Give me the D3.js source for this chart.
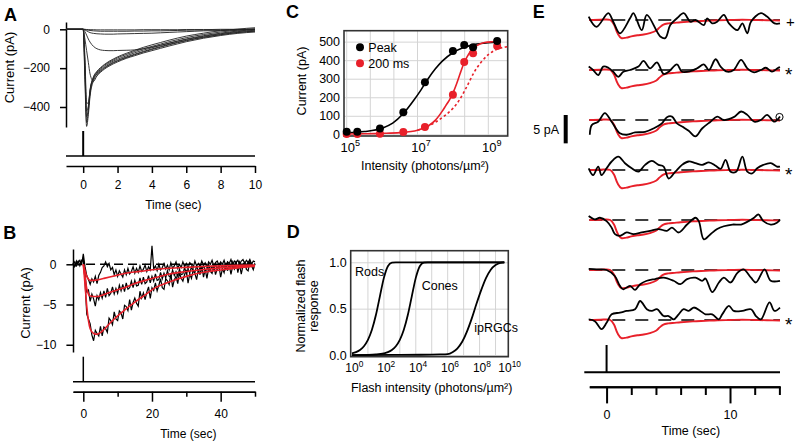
<!DOCTYPE html>
<html><head><meta charset="utf-8">
<script src="https://cdn.jsdelivr.net/npm/d3@7"></script>
<style>
body{margin:0;background:#fff;}
svg{display:block;font-family:"Liberation Sans",Arial,Helvetica,sans-serif;}
</style></head><body>
<svg id="fig" width="800" height="443"></svg>
<script>
// ---------------- DATA ----------------
// Panel A: flash responses (pA) sampled at aTime (s)
const aTime = [-1, 0, 0.1, 0.2, 0.3, 0.4, 0.6, 0.8, 1.0, 1.25, 1.5, 1.75, 2.0, 2.5, 3.0, 3.5, 4.0, 4.5, 5.0, 5.5, 6.0, 6.5, 7.0, 7.5, 8.0, 8.5, 9.0, 9.5, 10.0];
const aTraces = [
  [0, 0, -260, -500, -440, -345, -265, -238, -222, -204, -190, -178, -168, -150, -136, -122, -110, -98, -86, -75, -64, -55, -46, -39, -32, -26, -21, -17, -14],
  [0, 0, -230, -480, -420, -330, -258, -230, -213, -196, -182, -170, -160, -143, -128, -114, -101, -89, -77, -67, -57, -48, -40, -33, -27, -21, -16, -12, -9],
  [0, 0, -200, -450, -405, -320, -252, -226, -208, -190, -176, -164, -154, -137, -121, -107, -95, -83, -71, -60, -50, -41, -33, -26, -20, -14, -9, -5, -1],
  [0, 0, -170, -420, -395, -315, -248, -220, -202, -184, -170, -158, -147, -130, -114, -100, -88, -76, -64, -53, -43, -34, -27, -20, -14, -9, -4, 0, 3],
  [0, 0, -140, -380, -380, -310, -244, -216, -198, -180, -165, -153, -142, -124, -108, -93, -80, -68, -56, -45, -35, -27, -20, -13, -8, -3, 1, 5, 8],
  [0, 0, -50, -110, -170, -230, -268, -240, -218, -200, -185, -173, -163, -146, -131, -117, -104, -92, -80, -69, -59, -50, -42, -35, -28, -22, -17, -13, -10],
  [0, 0, -12, -30, -50, -66, -88, -100, -106, -109, -110, -110, -109, -108, -106, -100, -92, -82, -72, -62, -52, -44, -36, -29, -23, -17, -12, -8, -5],
  [0, 0, -3, -8, -13, -17, -21, -23, -24, -25, -25, -25, -24, -23, -22, -21, -20, -18, -16, -14, -12, -10, -8, -7, -6, -5, -4, -3, -2],
  [0, 0, -1, -3, -5, -6, -8, -9, -10, -10, -10, -10, -10, -10, -9, -9, -8, -8, -7, -6, -5, -4, -4, -3, -3, -2, -2, -1, -1],
  [0, 0, 0, -1, -1, -2, -2, -3, -3, -3, -3, -3, -3, -3, -3, -2, -2, -2, -2, -2, -1, -1, -1, -1, 0, 0, 0, 0, 0]
];
const aYTicks = [0, -200, -400];
const aXTicks = [0, 2, 4, 6, 8, 10];
const flashTime = 0;

// Panel B: dim flash responses (pA), raw traces sampled every 0.5 s from -3 s to 50 s, and fits
const bTimeStart = -3, bTimeStep = 0.5;
const bRaw1 = [-0.1,0.3,-0.2,0.2,0.5,-0.1,1.3,-0.3,-1.4,-1.9,-2.5,-1.8,-2.2,-1.5,-2.4,-1.4,-1.0,-0.4,-0.2,0.3,-0.3,0.1,-0.7,-0.4,-1.3,-0.7,-1.5,-0.8,-1.2,-1.6,-0.7,-1.3,-0.5,-1.2,-0.9,-0.3,-1.1,-0.5,-1.0,-0.2,-0.9,-0.6,-0.1,-0.9,-0.3,-0.7,2.3,-0.6,-0.2,-0.8,0.0,-0.7,-0.4,0.1,-0.6,-0.1,-0.7,0.2,-0.5,-0.2,0.3,-0.5,0.0,-0.4,0.3,-0.3,0.1,-0.5,0.2,0.0,-0.4,0.4,-0.2,0.1,-0.3,0.4,-0.1,0.2,-0.4,0.3,0.0,0.5,-0.2,0.2,0.4,-0.1,0.3,0.0,0.5,-0.2,0.3,0.1,0.6,-0.1,0.4,0.2,0.5,0.0,0.4,0.6,0.1,0.5,0.2,0.6,0.0,0.4,0.3];
const bRaw2 = [0.2,-0.3,0.1,0.4,-0.2,0.3,0.6,-1.2,-3.4,-3.2,-4.6,-3.7,-4.3,-5.2,-3.9,-4.4,-3.5,-4.2,-3.3,-4.1,-3.0,-3.9,-3.6,-2.8,-3.7,-3.0,-3.6,-2.6,-3.3,-2.5,-3.4,-2.3,-3.1,-2.9,-2.1,-2.9,-2.0,-2.7,-2.6,-1.7,-2.5,-1.6,-2.4,-2.2,-1.4,-2.3,-1.5,-2.1,-1.2,-2.0,-1.9,-1.0,-1.8,-1.1,-1.7,-0.8,-1.5,-1.6,-0.7,-1.4,-0.9,-1.5,-0.6,-1.3,-1.2,-0.4,-1.2,-0.6,-1.1,-0.3,-0.9,-1.0,-0.2,-0.9,-0.4,-0.8,-0.1,-0.8,-0.7,0.0,-0.7,-0.2,-0.6,0.1,-0.6,-0.5,0.1,-0.5,0.0,-0.6,0.2,-0.4,-0.3,0.3,-0.5,0.1,-0.3,0.3,-0.4,0.0,0.2,-0.4,0.3,-0.2,0.1,-0.3,0.1];
const bRaw3 = [0.15,-0.25,0.4,-0.1,0.05,0.45,0.8,-2.1,-6.2,-6.8,-7.4,-8.8,-9.5,-8.2,-8.6,-8.9,-7.7,-8.9,-7.8,-8.0,-8.45,-6.7,-7.0,-7.5,-5.9,-6.8,-7.0,-5.8,-6.05,-6.8,-5.1,-5.25,-5.75,-4.4,-5.7,-4.75,-4.2,-4.85,-5.2,-3.35,-4.2,-3.55,-4.4,-3.45,-2.8,-4.25,-2.9,-3.25,-2.3,-3.3,-2.6,-1.8,-2.9,-3.1,-1.8,-2.05,-2.5,-1.2,-2.85,-1.95,-1.5,-2.4,-1.05,-1.75,-2.1,-1.25,-0.7,-2.35,-1.2,-1.75,-0.7,-1.15,-1.9,-0.65,-1.3,-0.15,-1.6,-0.67,-1.74,-0.5,-0.87,-1.14,-0.11,-1.28,-0.55,-0.12,-1.6,-0.57,-1.05,0.18,-0.8,-0.07,-1.25,-0.22,-0.6,0.43,-1.05,-0.03,-1.21,-0.19,0.23,-0.65,-0.83,0.39,-0.19,-0.67,0.05];
const bFitTime = [0, 0.5, 1, 1.5, 2, 3, 4, 5, 6, 8, 10, 12, 15, 18, 21, 25, 30, 35, 40, 45, 50];
const bFit1 = [0, -0.8, -1.5, -1.85, -2.0, -2.0, -1.95, -1.85, -1.75, -1.55, -1.35, -1.15, -0.95, -0.8, -0.65, -0.5, -0.38, -0.28, -0.2, -0.14, -0.1];
const bFit2 = [0, -1.5, -3.0, -3.7, -3.95, -4.0, -4.0, -3.9, -3.75, -3.45, -3.15, -2.9, -2.4, -2.0, -1.65, -1.2, -0.9, -0.65, -0.45, -0.3, -0.2];
const bFit3 = [0, -2.5, -5.2, -7.0, -8.0, -8.6, -8.7, -8.5, -8.1, -7.2, -6.4, -5.7, -4.7, -3.8, -2.9, -2.2, -1.5, -1.0, -0.7, -0.45, -0.25];
const bYTicks = [0, -5, -10];
const bXMajor = [0, 20, 40];
const bXMinor = [10, 30, 50];

// Panel C: intensity-response
const cIntensityExp = [5.0, 5.30, 5.94, 6.60, 7.21, 8.0, 8.32, 8.57, 9.25];
const cPeak = [14, 14, 32, 119, 281, 450, 482, 470, 503];
const c200ms = [2, 2, 3, 12, 39, 214, 390, 437, 476];
const cFitPeakExp = [5.0, 5.5, 6.0, 6.3, 6.6, 6.9, 7.1, 7.3, 7.5, 7.7, 8.0, 8.3, 8.6, 9.0, 9.25];
const cFitPeak = [8, 15, 33, 60, 112, 185, 240, 300, 352, 395, 440, 468, 484, 494, 497];
const cFitRedExp = [5.0, 5.5, 6.0, 6.5, 7.0, 7.3, 7.5, 7.7, 7.8, 7.9, 8.0, 8.1, 8.2, 8.3, 8.4, 8.5, 8.6, 8.75, 8.9, 9.1, 9.25];
const cFitRed = [2, 3, 5, 9, 22, 45, 75, 125, 155, 185, 222, 270, 325, 378, 418, 448, 468, 486, 495, 499, 500];
const cFitDotExp = [7.0, 7.2, 7.5, 7.8, 8.0, 8.2, 8.4, 8.6, 8.8, 9.0, 9.2, 9.4, 9.55];
const cFitDot = [22, 35, 65, 105, 140, 190, 260, 335, 390, 430, 455, 468, 473];
const cYTicks = [0, 100, 200, 300, 400, 500];
const cXLabelExp = [5, 7, 9];
const cXGridExp = [5, 5.667, 6.333, 7, 7.667, 8.333, 9];
const cLegend = ["Peak", "200 ms"];

// Panel D: normalized flash responses
const dRodExp = [0, 0.25, 0.5, 0.75, 1.0, 1.25, 1.5, 1.75, 2.0, 2.25, 2.5, 2.75, 9.55];
const dRod = [0.018, 0.031, 0.055, 0.095, 0.163, 0.272, 0.431, 0.633, 0.832, 0.958, 0.996, 1.0, 1.0];
const dConeExp = [0, 1.0, 1.5, 2.0, 2.25, 2.5, 2.75, 3.0, 3.25, 3.5, 3.75, 4.0, 4.25, 4.5, 4.75, 9.55];
const dCone = [0.0, 0.002, 0.006, 0.018, 0.031, 0.055, 0.095, 0.163, 0.272, 0.431, 0.633, 0.832, 0.958, 0.996, 1.0, 1.0];
const dIpExp = [0, 3, 5, 5.5, 6.0, 6.3, 6.6, 6.9, 7.2, 7.5, 7.8, 8.1, 8.4, 8.7, 9.0, 9.3, 9.55];
const dIp = [0.0, 0.002, 0.004, 0.006, 0.01, 0.03, 0.07, 0.14, 0.25, 0.39, 0.55, 0.7, 0.83, 0.92, 0.97, 0.995, 1.0];
const dYTicks = [0, 0.5, 1.0];
const dXLabelExp = [0, 2, 4, 6, 8, 10];
const dXGridExp = [1, 2, 3, 4, 5, 6, 7, 8, 9];
const dNames = ["Rods", "Cones", "ipRGCs"];

// Panel E: single-trial responses (black) vs average (red), [s, pA]
const eRed = [[-1.4,0],[-0.5,0.05],[0.3,0],[0.6,-0.8],[0.9,-2.4],[1.2,-3.2],[1.6,-3.1],[2.0,-2.9],[2.5,-2.7],[3.0,-2.55],[3.5,-2.3],[4.0,-1.9],[4.3,-1.3],[4.6,-0.8],[5.0,-0.6],[5.5,-0.5],[6,-0.4],[7,-0.25],[8,-0.15],[9,-0.05],[10,0],[11,0.05],[12,0],[13,-0.05],[14.05,-0.1]];
const eRow1 = [[-1.45,0.6],[-0.82,-1.2],[0.14,1.2],[0.54,-0.3],[1.08,-2.35],[1.9,0.3],[2.17,1.2],[2.85,-1.8],[3.26,0.9],[4.35,-2.9],[4.75,-3.2],[5.16,-0.9],[5.7,0.3],[6.25,1.2],[6.79,-0.3],[7.2,0],[7.88,-0.9],[8.15,0.3],[8.55,-0.6],[8.96,-0.3],[9.5,0.9],[9.91,-0.6],[10.6,-1.8],[11.0,-0.6],[11.4,-2.35],[11.7,-0.3],[12.5,1.2],[13.0,0.6],[13.6,-0.6],[14.05,-0.6]];
const eRow2 = [[-1.45,0.6],[-1.09,0],[-0.68,-0.9],[-0.27,0.6],[0.14,0.4],[0.54,-0.3],[0.95,-1.2],[1.36,-0.3],[1.9,0],[2.58,0.6],[2.99,1.6],[3.53,0.3],[4.08,1.35],[4.62,-0.7],[5.03,-0.3],[5.7,1.0],[6.11,-0.3],[6.79,-0.2],[7.34,0.3],[7.88,1.0],[8.29,0],[8.83,1.9],[9.24,0.6],[9.78,-0.3],[10.3,0],[10.9,1.8],[11.4,0.3],[11.95,-0.4],[12.5,0],[12.9,0.4],[13.4,-0.3],[13.85,0.3],[14.05,0.5]];
const eRow3 = [[-1.36,-2.6],[-1.2,-0.9],[-0.68,-0.3],[-0.14,1.2],[0.41,-0.3],[1.08,-2.35],[1.63,-2.6],[2.31,-2.2],[3.12,-2.1],[3.8,-1.5],[4.48,-0.6],[4.89,0.5],[5.3,0.6],[5.7,-0.6],[6.24,-1.3],[6.65,-1.9],[7.19,-2.9],[7.74,-1.5],[8.42,-0.3],[8.96,0.6],[9.5,0],[10.3,0.5],[10.9,1.5],[11.4,0.9],[11.96,-0.3],[12.5,0],[13.0,0.9],[13.6,-0.3],[14.05,0.6]];
const eRow4 = [[-1.45,0.3],[-1.09,-0.9],[-0.68,0.6],[-0.41,-0.9],[0,0.3],[0.41,1.5],[0.95,2.35],[1.49,1.2],[2.04,0.3],[2.58,-0.3],[3.12,0.9],[3.67,1.6],[4.21,0.9],[4.62,0.6],[5.03,-1.5],[5.57,-0.3],[6.11,0.9],[6.65,1.5],[7.2,1.2],[7.74,0.9],[8.29,1.35],[8.83,0.75],[9.24,0.2],[9.64,1.8],[10.05,-0.3],[10.5,-0.3],[11.0,2.35],[11.4,-0.3],[11.8,-0.6],[12.2,0.3],[12.7,0.9],[13.3,1.2],[13.8,0.6],[14.05,0.6]];
const eRow5 = [[-1.45,0.7],[-0.95,0.1],[-0.54,0.4],[0,-0.2],[0.41,-1.35],[0.68,-2.5],[1.08,-2.8],[1.63,-2.2],[2.17,-2.5],[2.85,-2.2],[3.53,-1.9],[4.21,-1.6],[4.89,-1.9],[5.3,-1.35],[5.84,-2.2],[6.52,-0.8],[7.2,0.4],[7.47,-0.2],[7.88,-3.4],[8.42,-2.5],[8.96,-1.6],[9.5,-1.1],[10.2,-0.8],[10.9,-0.8],[11.5,-0.2],[11.95,0.4],[12.3,1.0],[12.7,-0.2],[13.3,-0.8],[13.8,-0.5],[14.05,0.1]];
const eRow6 = [[-1.45,0.2],[-0.82,0.1],[0,0],[0.68,-1.1],[1.08,-2.8],[1.36,-3.4],[1.9,-2.8],[2.31,-3.5],[2.72,-2.5],[3.26,-1.9],[3.94,-1.6],[4.62,-1.35],[5.43,-1.9],[5.98,-2.5],[6.52,-1.6],[7.2,-1.35],[7.74,-1.9],[8.01,-1.5],[8.56,-3.9],[9.1,-2.2],[9.5,-1.35],[10.05,-2.2],[10.6,-0.5],[11.1,0.1],[11.7,-1.35],[12.1,-2.2],[12.8,0.1],[13.3,-1.9],[14.05,-1.9]];
const eRow7 = [[-1.45,0.1],[-0.95,-0.2],[-0.41,-1.6],[0,-0.5],[0.41,1.0],[1.08,1.3],[1.63,1.6],[2.31,1.9],[2.72,3.35],[3.26,1.9],[3.67,1.6],[4.08,1.9],[4.62,0.7],[5.03,0.7],[5.43,0.1],[5.84,1.0],[6.24,1.9],[6.65,1.6],[7.06,2.2],[7.6,1.6],[8.01,1.0],[8.56,1.0],[9.1,0.1],[9.37,1.0],[9.91,2.5],[10.3,1.6],[11.0,1.6],[11.7,1.9],[12.1,0.7],[12.5,0.1],[13.2,3.1],[13.6,1.6],[14.05,2.2]];
const eRows = [eRow1, eRow2, eRow3, eRow4, eRow5, eRow6, eRow7];
const eMarks = ["+", "*", "o", "*", "", "", "*"];
const eMajorTicks = [0, 10];
const eMinorTicks = [2, 4, 6, 8, 12, 14];
const eScaleBarPA = 5;

// ---------------- DRAWING ----------------
const RED = "#e8202a";
const FONT = '"Liberation Sans", Arial, Helvetica, sans-serif';
const svg = d3.select("#fig");

function txt(x, y, s, size, opts = {}) {
  const t = svg.append("text").attr("x", x).attr("y", y).attr("font-size", size)
    .attr("font-family", FONT).attr("fill", "#000").text(s);
  if (opts.anchor) t.attr("text-anchor", opts.anchor);
  if (opts.bold) t.attr("font-weight", "bold");
  if (opts.rotate) t.attr("transform", `rotate(-90,${x},${y})`);
  return t;
}
function styleAxis(g, sw, fs) {
  g.attr("font-family", FONT).attr("font-size", fs);
  g.select(".domain").attr("stroke", "#000").attr("stroke-width", sw);
  g.selectAll(".tick line").attr("stroke", "#000").attr("stroke-width", sw);
  g.selectAll(".tick text").attr("fill", "#000");
}
function supLabel(x, y, base, exp, fs) {
  const t = svg.append("text").attr("x", x - 0.556 * fs).attr("y", y)
    .attr("font-family", FONT).attr("font-size", fs).attr("fill", "#000");
  t.append("tspan").text(base);
  t.append("tspan").attr("font-size", fs * 0.7).attr("dy", -fs * 0.42).text(exp);
}

// Panel labels
txt(4, 20.7, "A", 18, {bold: true});
txt(3.3, 239.3, "B", 18, {bold: true});
txt(286, 18.3, "C", 18, {bold: true});
txt(286.7, 238.3, "D", 18, {bold: true});
txt(532.7, 18.3, "E", 18, {bold: true});

// ---- Panel A ----
{
  const x = d3.scaleLinear().domain([-1, 10]).range([66, 255]);
  const y = d3.scaleLinear().domain([37.6, -503]).range([22, 127]);
  const gy = svg.append("g").attr("transform", "translate(66,0)")
    .call(d3.axisLeft(y).tickValues(aYTicks).tickSize(6).tickSizeOuter(0).tickPadding(10));
  styleAxis(gy, 1.5, 12);
  const line = d3.line().x((d, i) => x(aTime[i])).y(d => y(d)).curve(d3.curveMonotoneX);
  svg.append("g").selectAll("path").data(aTraces).join("path")
    .attr("d", line).attr("fill", "none").attr("stroke", "#222").attr("stroke-width", 0.9);
  svg.append("line").attr("x1", x(-1)).attr("x2", x(10)).attr("y1", 156).attr("y2", 156).attr("stroke", "#000").attr("stroke-width", 1.5);
  svg.append("line").attr("x1", x(flashTime)).attr("x2", x(flashTime)).attr("y1", 131).attr("y2", 156).attr("stroke", "#000").attr("stroke-width", 2);
  const gx = svg.append("g").attr("transform", "translate(0,166)")
    .call(d3.axisBottom(x).tickValues(aXTicks).tickSize(7).tickSizeOuter(0).tickPadding(7));
  styleAxis(gx, 1.5, 12);
  txt(14, 67.5, "Current (pA)", 13, {anchor: "middle", rotate: true});
  txt(173.3, 209, "Time (sec)", 12, {anchor: "middle"});
}

// ---- Panel B ----
{
  const x = d3.scaleLinear().domain([-3, 50]).range([73, 255]);
  const y = d3.scaleLinear().domain([1.9, -10.9]).range([249, 352]);
  const gy = svg.append("g").attr("transform", "translate(73,0)")
    .call(d3.axisLeft(y).tickValues(bYTicks).tickSize(6.6).tickSizeOuter(0).tickPadding(10));
  styleAxis(gy, 1.5, 12);
  svg.append("line").attr("x1", x(0.8)).attr("x2", x(50)).attr("y1", y(0)).attr("y2", y(0))
    .attr("stroke", "#000").attr("stroke-width", 1.5).attr("stroke-dasharray", "9,5");
  const raw = d3.line().x((d, i) => x(bTimeStart + i * bTimeStep)).y(d => y(d));
  svg.append("g").selectAll("path").data([bRaw1, bRaw2, bRaw3]).join("path")
    .attr("d", raw).attr("fill", "none").attr("stroke", "#000").attr("stroke-width", 1.2);
  const fit = d3.line().x((d, i) => x(bFitTime[i])).y(d => y(d)).curve(d3.curveMonotoneX);
  svg.append("g").selectAll("path").data([bFit1, bFit2, bFit3]).join("path")
    .attr("d", fit).attr("fill", "none").attr("stroke", RED).attr("stroke-width", 1.6);
  svg.append("line").attr("x1", x(-3)).attr("x2", x(50)).attr("y1", 381.7).attr("y2", 381.7).attr("stroke", "#000").attr("stroke-width", 1.5);
  svg.append("line").attr("x1", x(flashTime)).attr("x2", x(flashTime)).attr("y1", 356.7).attr("y2", 381.7).attr("stroke", "#000").attr("stroke-width", 1.5);
  const gx = svg.append("g").attr("transform", "translate(0,391.7)")
    .call(d3.axisBottom(x).tickValues(bXMajor).tickSize(10).tickSizeOuter(0).tickPadding(8));
  styleAxis(gx, 1.5, 12);
  const gx2 = svg.append("g").attr("transform", "translate(0,391.7)")
    .call(d3.axisBottom(x).tickValues(bXMinor).tickSize(5).tickSizeOuter(0).tickFormat(""));
  styleAxis(gx2, 1.5, 12);
  txt(30, 303, "Current (pA)", 13, {anchor: "middle", rotate: true});
  txt(188.3, 437.5, "Time (sec)", 12, {anchor: "middle"});
}

// ---- Panel C ----
{
  const L = 344, R = 507.7, T = 30.7, B = 136;
  const x = d3.scaleLog().domain([Math.pow(10, 4.924), Math.pow(10, 9.548)]).range([L, R]);
  const y = d3.scaleLinear().domain([-9, 559]).range([B, T]);
  const p10 = e => Math.pow(10, e);
  svg.append("g").selectAll("line").data(cXGridExp).join("line")
    .attr("x1", d => x(p10(d))).attr("x2", d => x(p10(d))).attr("y1", T).attr("y2", B)
    .attr("stroke", "#d4d4d4").attr("stroke-width", 1);
  const gy = svg.append("g").attr("transform", `translate(${L},0)`)
    .call(d3.axisLeft(y).tickValues(cYTicks).tickSize(-(R - L)).tickSizeOuter(0).tickPadding(4));
  gy.attr("font-family", FONT).attr("font-size", 12.5);
  gy.select(".domain").remove();
  gy.selectAll(".tick line").attr("stroke", "#d4d4d4").attr("stroke-width", 1);
  gy.selectAll(".tick text").attr("fill", "#000");
  svg.append("rect").attr("x", L).attr("y", T).attr("width", R - L).attr("height", B - T)
    .attr("fill", "none").attr("stroke", "#333").attr("stroke-width", 1.6);
  const mk = (ex, vals) => ex.map((e, i) => [p10(e), vals[i]]);
  const line = d3.line().x(d => x(d[0])).y(d => y(d[1])).curve(d3.curveMonotoneX);
  svg.append("path").attr("d", line(mk(cFitPeakExp, cFitPeak))).attr("fill", "none").attr("stroke", "#000").attr("stroke-width", 1.6);
  svg.append("path").attr("d", line(mk(cFitRedExp, cFitRed))).attr("fill", "none").attr("stroke", RED).attr("stroke-width", 1.6);
  svg.append("path").attr("d", line(mk(cFitDotExp, cFitDot))).attr("fill", "none").attr("stroke", RED).attr("stroke-width", 1.6).attr("stroke-dasharray", "2.5,2.5");
  svg.append("g").selectAll("circle").data(mk(cIntensityExp, c200ms)).join("circle")
    .attr("cx", d => x(d[0])).attr("cy", d => y(d[1])).attr("r", 4).attr("fill", RED);
  svg.append("g").selectAll("circle").data(mk(cIntensityExp, cPeak)).join("circle")
    .attr("cx", d => x(d[0])).attr("cy", d => y(d[1])).attr("r", 4).attr("fill", "#000");
  svg.append("circle").attr("cx", 360).attr("cy", 47.3).attr("r", 4).attr("fill", "#000");
  svg.append("circle").attr("cx", 360).attr("cy", 63.3).attr("r", 4).attr("fill", RED);
  txt(368.3, 51.7, cLegend[0], 12.5);
  txt(368.3, 67.7, cLegend[1], 12.5);
  cXLabelExp.forEach(e => supLabel(x(p10(e)) + 1, 151.7, "10", String(e), 13));
  txt(306, 81, "Current (pA)", 12.5, {anchor: "middle", rotate: true});
  txt(425, 170, "Intensity (photons/\u00b5m\u00b2)", 12.5, {anchor: "middle"});
}

// ---- Panel D ----
{
  const L = 350.7, R = 508.3, T = 250.7, B = 356.7;
  const x = d3.scaleLog().domain([Math.pow(10, -0.08), Math.pow(10, 9.8)]).range([L, R]);
  const y = d3.scaleLinear().domain([-0.018, 1.125]).range([B, T]);
  const p10 = e => Math.pow(10, e);
  svg.append("g").selectAll("line").data(dXGridExp).join("line")
    .attr("x1", d => x(p10(d))).attr("x2", d => x(p10(d))).attr("y1", T).attr("y2", B)
    .attr("stroke", "#d4d4d4").attr("stroke-width", 1);
  const gy = svg.append("g").attr("transform", `translate(${L},0)`)
    .call(d3.axisLeft(y).tickValues(dYTicks).tickSize(-(R - L)).tickSizeOuter(0).tickPadding(4).tickFormat(d3.format(".1f")));
  gy.attr("font-family", FONT).attr("font-size", 12.5);
  gy.select(".domain").remove();
  gy.selectAll(".tick line").attr("stroke", "#d4d4d4").attr("stroke-width", 1);
  gy.selectAll(".tick text").attr("fill", "#000");
  svg.append("rect").attr("x", L).attr("y", T).attr("width", R - L).attr("height", B - T)
    .attr("fill", "none").attr("stroke", "#333").attr("stroke-width", 1.6);
  const mk = (ex, vals) => ex.map((e, i) => [p10(e), vals[i]]);
  const line = d3.line().x(d => x(d[0])).y(d => y(d[1])).curve(d3.curveMonotoneX);
  [[dRodExp, dRod], [dConeExp, dCone], [dIpExp, dIp]].forEach(([ex, v]) => {
    svg.append("path").attr("d", line(mk(ex, v))).attr("fill", "none").attr("stroke", "#000").attr("stroke-width", 1.8);
  });
  txt(355, 276, dNames[0], 12.5);
  txt(421.7, 289.5, dNames[1], 12.5);
  txt(474.3, 331.5, dNames[2], 12.5);
  dXLabelExp.forEach(e => {
    const px = Math.min(x(p10(e)), 505);
    supLabel(px, 371.7, "10", String(e), 12);
  });
  txt(305, 306, "Normalized flash", 12.5, {anchor: "middle", rotate: true});
  txt(317.5, 306, "response", 12.5, {anchor: "middle", rotate: true});
  txt(431.7, 392, "Flash intensity (photons/\u00b5m\u00b2)", 12.5, {anchor: "middle"});
}

// ---- Panel E ----
{
  const x = d3.scaleLinear().domain([-1.4, 14.05]).range([589.3, 780]);
  const pxPerPA = 28.35 / 5;
  eRows.forEach((row, i) => {
    const base = 20 + 50 * i;
    const y = d3.scaleLinear().domain([0, -1]).range([base, base + pxPerPA]);
    const g = svg.append("g");
    g.append("line").attr("x1", x(-1.4)).attr("x2", x(14.05)).attr("y1", base).attr("y2", base)
      .attr("stroke", "#000").attr("stroke-width", 1.6).attr("stroke-dasharray", "13,10");
    const line = d3.line().x(d => x(d[0])).y(d => y(d[1])).curve(d3.curveCatmullRom.alpha(0.5));
    g.append("path").attr("d", line(eRed)).attr("fill", "none").attr("stroke", RED).attr("stroke-width", 1.9);
    g.append("path").attr("d", line(row)).attr("fill", "none").attr("stroke", "#000").attr("stroke-width", 1.8);
    const m = eMarks[i];
    if (m === "o") {
      g.append("circle").attr("cx", 779.5).attr("cy", base - 3).attr("r", 3.6).attr("fill", "none").attr("stroke", "#000").attr("stroke-width", 1);
    } else if (m === "+") {
      txt(786, base + 6.5, m, 15);
    } else if (m === "*") {
      txt(785, base + 10.5, m, 19);
    }
  });
  const yb = d3.scaleLinear().domain([0, -eScaleBarPA]).range([115, 115 + 28.35]);
  svg.append("line").attr("x1", 565.7).attr("x2", 565.7).attr("y1", yb(0)).attr("y2", yb(-eScaleBarPA))
    .attr("stroke", "#000").attr("stroke-width", 4);
  txt(533.3, 134.3, eScaleBarPA + " pA", 12.5);
  svg.append("line").attr("x1", 584.3).attr("x2", 780).attr("y1", 372.3).attr("y2", 372.3).attr("stroke", "#000").attr("stroke-width", 2);
  svg.append("line").attr("x1", x(flashTime)).attr("x2", x(flashTime)).attr("y1", 345).attr("y2", 372.3).attr("stroke", "#000").attr("stroke-width", 2);
  const gx = svg.append("g").attr("transform", "translate(0,386.7)")
    .call(d3.axisBottom(x).tickValues(eMajorTicks).tickSize(16.7).tickSizeOuter(0).tickPadding(6.4));
  styleAxis(gx, 2, 12.5);
  const gx2 = svg.append("g").attr("transform", "translate(0,386.7)")
    .call(d3.axisBottom(x).tickValues(eMinorTicks).tickSize(8.3).tickSizeOuter(0).tickFormat(""));
  styleAxis(gx2, 2, 12.5);
  txt(690.8, 434.5, "Time (sec)", 12.5, {anchor: "middle"});
}
</script></body></html>
